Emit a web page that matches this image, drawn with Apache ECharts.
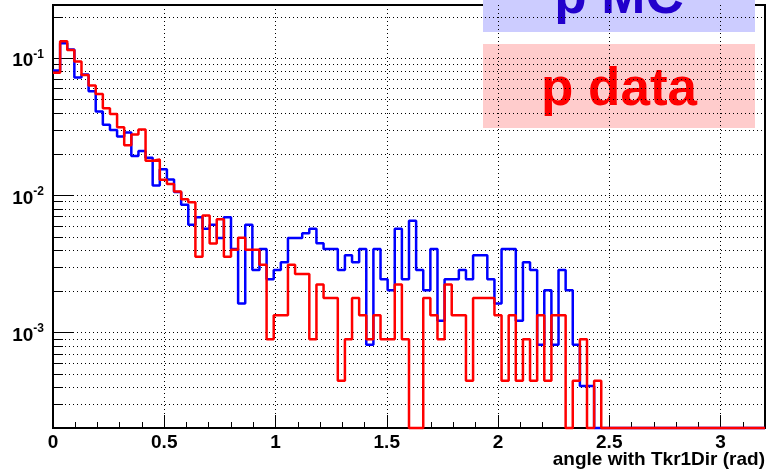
<!DOCTYPE html>
<html>
<head>
<meta charset="utf-8">
<script src="https://cdn.jsdelivr.net/npm/echarts@6/dist/echarts.min.js"></script>
<style>
  html, body { margin: 0; padding: 0; background: #ffffff; }
  #chart { width: 767px; height: 474px; }
</style>
</head>
<body>
<div id="chart"></div>
<script>
// Histogram binning: 100 bins of equal width over [0, 3.2] rad
const binWidth = 0.032;
const xMin = 0;
const xMax = 3.2;
const yMin = 2.02e-4;
const yMax = 0.2444;

// Normalised bin contents, proton Monte Carlo
const mcValues = [
  0.0815, 0.1286, 0.1159, 0.0725, 0.0762, 0.0576, 0.0410, 0.0327, 0.0300, 0.0269,
  0.0288, 0.0194, 0.0211, 0.0188, 0.0118, 0.0155, 0.0131, 0.0106, 0.00857, 0.00612,
  0.00694, 0.00571, 0.00612, 0.00490, 0.00694, 0.00408, 0.00163, 0.00612, 0.00286, 0.00408,
  0.00245, 0.00286, 0.00326, 0.00490, 0.00490, 0.00530, 0.00571, 0.00449, 0.00408, 0.00408,
  0.00286, 0.00367, 0.00326, 0.00408, 0.000816, 0.00408, 0.00245, 0.00204, 0.00571, 0.00245,
  0.00653, 0.00286, 0.00204, 0.00408, 0.00122, 0.00245, 0.00245, 0.00286, 0.00245, 0.00367,
  0.00367, 0.00245, 0.00163, 0.00408, 0.00408, 0.00122, 0.00326, 0.00286, 0.000816, 0.00204,
  0.000816, 0.00286, 0.00204, 0.000816, 0.000408, 0.000408, 0, 0, 0, 0,
  0, 0, 0, 0, 0, 0, 0, 0, 0, 0,
  0, 0, 0, 0, 0, 0, 0, 0, 0, 0
];

// Normalised bin contents, proton flight data
const dataValues = [
  0.0785, 0.1330, 0.1149, 0.0945, 0.0756, 0.0634, 0.0548, 0.0432, 0.0392, 0.0314,
  0.0232, 0.0278, 0.0302, 0.0179, 0.0183, 0.0130, 0.0121, 0.0107, 0.00939, 0.00894,
  0.00358, 0.00715, 0.00447, 0.00671, 0.00358, 0.00402, 0.00492, 0.00402, 0.00402, 0.00313,
  0.000894, 0.00134, 0.00134, 0.00313, 0.00268, 0.00268, 0.000894, 0.00224, 0.00179, 0.00179,
  0.000447, 0.000894, 0.00179, 0.00134, 0.000894, 0.00134, 0.000894, 0.000894, 0.00224, 0.000894,
  0, 0, 0.00179, 0.00134, 0.000894, 0.00224, 0.00134, 0.00134, 0.000447, 0.00179,
  0.00179, 0.00179, 0.00134, 0.000447, 0.00134, 0.000447, 0.000894, 0.000447, 0.00134, 0.000447,
  0.00134, 0.00134, 0, 0.000447, 0.000894, 0, 0.000447, 0, 0, 0,
  0, 0, 0, 0, 0, 0, 0, 0, 0, 0,
  0, 0, 0, 0, 0, 0, 0, 0, 0, 0
];

// Axis tick positions
const xMinorTicks = [
  0.1, 0.2, 0.3, 0.4, 0.6, 0.7, 0.8, 0.9, 1.1, 1.2, 1.3, 1.4, 1.6, 1.7, 1.8, 1.9,
  2.1, 2.2, 2.3, 2.4, 2.6, 2.7, 2.8, 2.9, 3.1
];
const yDecades = [0.001, 0.01, 0.1];
const yGridValues = [
  3e-4, 4e-4, 5e-4, 6e-4, 7e-4, 8e-4, 9e-4,
  1e-3, 2e-3, 3e-3, 4e-3, 5e-3, 6e-3, 7e-3, 8e-3, 9e-3,
  1e-2, 2e-2, 3e-2, 4e-2, 5e-2, 6e-2, 7e-2, 8e-2, 9e-2,
  0.1, 0.2
];

const xTitle = 'angle with Tkr1Dir (rad)';
const legendMC = 'p MC';
const legendData = 'p data';

const FONT = '"Liberation Sans", Arial, Helvetica, sans-serif';

// Turn bin contents into step-line vertices; empty bins sit on the frame floor
function histPoints(values) {
  const pts = values.map(function (v, i) {
    return [+(i * binWidth).toFixed(4), v > 0 ? v : yMin];
  });
  const last = values[values.length - 1];
  pts.push([xMax, last > 0 ? last : yMin]);
  return pts;
}

const dotted = { color: '#000', width: 1, type: [1, 3] };

const chart = echarts.init(document.getElementById('chart'), null, { renderer: 'canvas' });

chart.setOption({
  animation: false,
  backgroundColor: '#ffffff',
  grid: {
    left: 53, right: 2, top: 5, bottom: 46,
    containLabel: false, outerBoundsMode: 'none',
    show: true, borderColor: '#000', borderWidth: 2, backgroundColor: 'transparent'
  },
  xAxis: [
    {
      type: 'value', min: xMin, max: xMax, interval: 0.5, position: 'bottom',
      axisLine: { show: true, onZero: false, lineStyle: { color: '#000', width: 2 } },
      axisTick: { show: true, inside: true, length: 13, lineStyle: { color: '#000', width: 1 } },
      axisLabel: {
        showMaxLabel: false, margin: 5, color: '#000',
        fontFamily: FONT, fontWeight: 'bold', fontSize: 19,
        formatter: function (v) { return String(v); }
      },
      splitLine: { show: true, lineStyle: dotted }
    },
    {
      type: 'value', min: xMin, max: xMax, position: 'bottom',
      axisLine: { show: false },
      axisTick: { show: true, inside: true, length: 6, customValues: xMinorTicks, lineStyle: { color: '#000', width: 1 } },
      axisLabel: { show: false },
      splitLine: { show: false }
    }
  ],
  yAxis: [
    {
      type: 'log', logBase: 10, min: yMin, max: yMax, position: 'left',
      axisLine: { show: true, onZero: false, lineStyle: { color: '#000', width: 2 } },
      axisTick: { show: true, inside: true, length: 20, customValues: yDecades, lineStyle: { color: '#000', width: 1 } },
      axisLabel: {
        customValues: yDecades, margin: 9, color: '#000',
        formatter: function (v) {
          return '{b|10}{s|' + Math.round(Math.log10(v)) + '}';
        },
        rich: {
          b: { fontFamily: FONT, fontWeight: 'bold', fontSize: 19, lineHeight: 19, padding: [6, 0, 0, 0], color: '#000' },
          s: { fontFamily: FONT, fontWeight: 'bold', fontSize: 12, lineHeight: 12, verticalAlign: 'top', color: '#000' }
        }
      },
      splitLine: { show: false }
    },
    {
      type: 'log', logBase: 10, min: yMin, max: yMax, position: 'left',
      axisLine: { show: false },
      axisTick: { show: true, inside: true, length: 10, customValues: yGridValues, lineStyle: { color: '#000', width: 1 } },
      axisLabel: { show: false },
      splitLine: { show: true, lineStyle: dotted }
    }
  ],
  series: [
    {
      name: legendMC, type: 'line', step: 'end', xAxisIndex: 0, yAxisIndex: 0,
      data: histPoints(mcValues), symbol: 'none', clip: false, z: 3,
      lineStyle: { color: '#0000ff', width: 2.5 }
    },
    {
      name: legendData, type: 'line', step: 'end', xAxisIndex: 0, yAxisIndex: 0,
      data: histPoints(dataValues), symbol: 'none', clip: false, z: 4,
      lineStyle: { color: '#ff0000', width: 2.5 }
    }
  ],
  graphic: [
    {
      type: 'text', z: 50,
      style: { x: 765, y: 460, text: xTitle, align: 'right', verticalAlign: 'middle',
        font: 'bold 19px ' + FONT, fill: '#000' }
    },
    {
      type: 'group', z: 100,
      children: [
        { type: 'rect', shape: { x: 483, y: -10, width: 272, height: 42 }, style: { fill: '#ccccff' } },
        { type: 'text', style: { x: 619, y: -2, text: legendMC, align: 'center', verticalAlign: 'middle',
            font: 'bold 53px ' + FONT, fill: '#2200cc' } },
        { type: 'rect', shape: { x: 483, y: 44, width: 272, height: 84 }, style: { fill: '#ffcccc' } },
        { type: 'text', style: { x: 619, y: 90, text: legendData, align: 'center', verticalAlign: 'middle',
            font: 'bold 53px ' + FONT, fill: '#ff0000' } }
      ]
    }
  ]
});
</script>
</body>
</html>
